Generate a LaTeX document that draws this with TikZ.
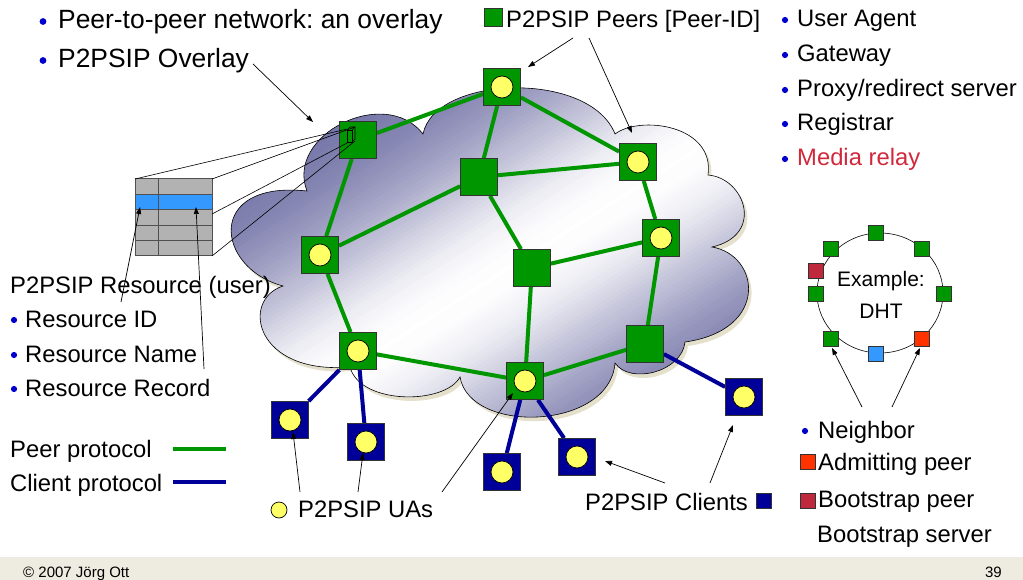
\documentclass[tikz,border=0pt]{standalone}
\usepackage{fontspec}
\setmainfont{Liberation Sans}
\frenchspacing
\usetikzlibrary{arrows.meta,backgrounds}

\definecolor{peergreen}{RGB}{0,150,0}
\definecolor{clientblue}{RGB}{0,0,153}
\definecolor{uayellow}{RGB}{255,255,102}
\definecolor{bulletblue}{RGB}{0,0,204}
\definecolor{relayred}{RGB}{210,40,60}
\definecolor{clouddark}{RGB}{62,62,134}
\definecolor{cloudshadow}{RGB}{228,224,204}
\definecolor{footerbg}{RGB}{238,235,224}
\definecolor{tablegrey}{RGB}{178,178,178}
\definecolor{tableline}{RGB}{80,80,80}
\definecolor{recordblue}{RGB}{51,153,255}
\definecolor{admitred}{RGB}{255,51,0}
\definecolor{bootred}{RGB}{192,40,60}

\tikzset{
  peer/.style={draw=black!80, line width=0.8pt, fill=peergreen, minimum size=37pt, inner sep=0pt},
  client/.style={draw=black!80, line width=0.8pt, fill=clientblue, minimum size=37pt, inner sep=0pt},
  ua/.style={circle, draw=black, line width=0.7pt, fill=uayellow, minimum size=22pt, inner sep=0pt},
  peerlink/.style={draw=peergreen, line width=4pt},
  clientlink/.style={draw=clientblue, line width=4pt},
  pointer/.style={draw=black, line width=0.7pt, -{Triangle[length=7pt,width=5pt]}},
  txt/.style={anchor=base west, inner sep=0pt, font=\fontsize{23.8}{28}\selectfont},
  bigtxt/.style={anchor=base west, inner sep=0pt, font=\fontsize{26.4}{31}\selectfont},
  smalltxt/.style={inner sep=0pt, font=\fontsize{15}{18}\selectfont},
  dhtsq/.style={draw=black!80, line width=0.6pt, minimum size=15pt, inner sep=0pt},
  bulletdot/.style={fill=bulletblue},
}

% outline of the overlay cloud, lobe by lobe
\def\cloudpath{(283,286)
  .. controls (215,268) and (205,180) .. (307,191)
  .. controls (285,135) and (385,85) .. (423,134)
  .. controls (435,75) and (590,70) .. (615,134)
  .. controls (640,115) and (715,125) .. (708,175)
  .. controls (745,178) and (765,235) .. (712,247)
  .. controls (760,255) and (770,330) .. (685,342)
  .. controls (682,372) and (630,385) .. (615,363)
  .. controls (610,430) and (470,435) .. (460,377)
  .. controls (445,405) and (360,405) .. (350,367)
  .. controls (255,375) and (240,300) .. (283,286) -- cycle}

\begin{document}
\begin{tikzpicture}[x=1pt,y=-1pt]
\useasboundingbox (0,0) rectangle (1023,580);

% ---------- peers ----------
\node[peer] (n1) at (502,87) {};
\node[ua] (u1) at (n1) {};
\node[peer] (n2) at (638,162) {};
\node[ua] (u2) at (n2) {};
\node[peer] (n3) at (479,177) {};
\node[peer] (n4) at (661,238) {};
\node[ua] (u4) at (n4) {};
\node[peer] (n5) at (532,268) {};
\node[peer] (n6) at (645,344) {};
\node[peer] (n7) at (525,381) {};
\node[ua] (u7) at (n7) {};
\node[peer] (n8) at (320,255) {};
\node[ua] (u8) at (n8) {};
\node[peer] (n9) at (358,351) {};
\node[ua] (u9) at (n9) {};
\node[peer] (n10) at (358,140) {};

% ---------- clients ----------
\node[client] (c1) at (290,420) {};
\node[ua] (v1) at (c1) {};
\node[client] (c2) at (366,442) {};
\node[ua] (v2) at (c2) {};
\node[client] (c3) at (502,472) {};
\node[ua] (v3) at (c3) {};
\node[client] (c4) at (577,457) {};
\node[ua] (v4) at (c4) {};
\node[client] (c5) at (744,397) {};
\node[ua] (v5) at (c5) {};

\begin{scope}[on background layer]
  \fill[white] (0,0) rectangle (1023,580);
  % cloud with its drop shadow
  \path[fill=cloudshadow, shift={(3,4)}] \cloudpath;
  \begin{scope}
    \clip \cloudpath;
    % gradient across the cloud's diagonal: dark corners, white band between
    \foreach \s in {-300,-296,...,300} {
      \pgfmathsetmacro\dd{(\s-25)/130}
      \pgfmathtruncatemacro\p{100-75*(1-exp(-\dd*\dd))}
      \pgfmathsetmacro\ox{489+0.534*\s}
      \pgfmathsetmacro\oy{253+0.845*\s}
      \colorlet{cloudtint}{white!\p!clouddark}
      \draw[cloudtint, line width=5pt] (\ox-507,\oy+320) -- (\ox+507,\oy-320);
    }
  \end{scope}
  \draw[black, line width=0.6pt] \cloudpath;
  % peer protocol links
  \draw[peerlink] (n10) -- (n1);
  \draw[peerlink] (n10) -- (n8);
  \draw[peerlink] (n1) -- (n3);
  \draw[peerlink] (n1) -- (n2);
  \draw[peerlink] (n3) -- (n8);
  \draw[peerlink] (n3) -- (n2);
  \draw[peerlink] (n3) -- (n5);
  \draw[peerlink] (n2) -- (n4);
  \draw[peerlink] (n4) -- (n5);
  \draw[peerlink] (n4) -- (n6);
  \draw[peerlink] (n8) -- (n9);
  \draw[peerlink] (n9) -- (n7);
  \draw[peerlink] (n5) -- (n7);
  \draw[peerlink] (n7) -- (n6);
  % client protocol links
  \draw[clientlink] (n9) -- (c1);
  \draw[clientlink] (n9) -- (c2);
  \draw[clientlink] (n7) -- (c3);
  \draw[clientlink] (n7) -- (c4);
  \draw[clientlink] (n6) -- (c5);
\end{scope}

% ---------- resource table and its projection onto a peer ----------
\fill[tablegrey] (135,179) rectangle (212,256);
\fill[recordblue] (135,195) rectangle (212,210);
\draw[tableline, line width=1pt] (135,179) rectangle (212,256);
\foreach \yy in {195,210,226,241} \draw[tableline, line width=1pt] (135,\yy) -- (212,\yy);
\draw[tableline, line width=1pt] (158,179) -- (158,256);
\draw[black, line width=0.6pt] (347,130) rectangle (352,142);
\draw[black, line width=0.6pt] (347,130) -- (350,127) -- (355,127) -- (355,139) -- (352,142);
\draw[black, line width=0.6pt] (352,130) -- (355,127);
\draw[black, line width=0.6pt] (135,179) -- (347,129);
\draw[black, line width=0.6pt] (212,179) -- (355,127);
\draw[black, line width=0.6pt] (212,214) -- (349,142);
\draw[black, line width=0.6pt] (212,256) -- (355,141);

% ---------- DHT example ring ----------
\draw[black, line width=0.6pt] (880,293) ellipse [x radius=63, y radius=60];
\node[dhtsq, fill=peergreen] (d1) at (876,233) {};
\node[dhtsq, fill=peergreen] (d2) at (831,249) {};
\node[dhtsq, fill=peergreen] (d3) at (922,249) {};
\node[dhtsq, fill=bootred] (d4) at (816,271) {};
\node[dhtsq, fill=peergreen] (d5) at (816,294) {};
\node[dhtsq, fill=peergreen] (d6) at (944,294) {};
\node[dhtsq, fill=peergreen] (d7) at (831,339) {};
\node[dhtsq, fill=recordblue] (d8) at (876,354) {};
\node[dhtsq, fill=admitred] (d9) at (922,339) {};
\node[anchor=base, inner sep=0pt, font=\fontsize{21}{25}\selectfont] (ex1) at (881,287) {Example:};
\node[anchor=base, inner sep=0pt, font=\fontsize{21}{25}\selectfont] (ex2) at (881,318) {DHT};

% ---------- texts ----------
\fill[bulletdot] (43,21.5) circle (3.4);
\node[bigtxt] (t1) at (58,29) {Peer-to-peer network: an overlay};
\fill[bulletdot] (43,60.5) circle (3.4);
\node[bigtxt] (t2) at (58,68) {P2PSIP Overlay};

\node[draw=black!80, line width=0.6pt, fill=peergreen, minimum size=18pt, inner sep=0pt] (lgpeer) at (493,17) {};
\node[txt] (t3) at (506,28) {P2PSIP Peers [Peer-ID]};

\fill[bulletdot] (785,20) circle (3.1);
\node[txt] (r1) at (797,27) {User Agent};
\fill[bulletdot] (785,55) circle (3.1);
\node[txt] (r2) at (797,62) {Gateway};
\fill[bulletdot] (785,90) circle (3.1);
\node[txt] (r3) at (797,97) {Proxy/redirect server};
\fill[bulletdot] (785,124) circle (3.1);
\node[txt] (r4) at (797,131) {Registrar};
\fill[bulletdot] (785,159) circle (3.1);
\node[txt, text=relayred] (r5) at (797,166) {Media relay};

\node[txt] (l0) at (10,294) {P2PSIP Resource (user)};
\fill[bulletdot] (14,320) circle (3.1);
\node[txt] (l1) at (25,327) {Resource ID};
\fill[bulletdot] (14,355) circle (3.1);
\node[txt] (l2) at (25,362) {Resource Name};
\fill[bulletdot] (14,389) circle (3.1);
\node[txt] (l3) at (25,396) {Resource Record};

\node[txt] (p1) at (10,457) {Peer protocol};
\node[txt] (p2) at (10,491) {Client protocol};
\coordinate (pp1) at (173,449);
\coordinate (pp2) at (226,449);
\coordinate (cp1) at (173,482);
\coordinate (cp2) at (226,482);
\draw[peerlink] (pp1) -- (pp2);
\draw[clientlink] (cp1) -- (cp2);

\node[circle, draw=black, line width=0.7pt, fill=uayellow, minimum size=16pt, inner sep=0pt] (lgua) at (279,510) {};
\node[txt] (t4) at (298,517) {P2PSIP UAs};
\node[txt] (t5) at (585,510) {P2PSIP Clients};
\node[draw=black!80, line width=0.6pt, fill=clientblue, minimum size=15pt, inner sep=0pt] (lgclient) at (763.5,501) {};

\fill[bulletdot] (805,431) circle (3.1);
\node[txt] (g1) at (818,438) {Neighbor};
\node[dhtsq, fill=admitred] (lgadmit) at (807.5,462) {};
\node[txt] (g2) at (818,470) {Admitting peer};
\node[dhtsq, fill=bootred] (lgboot) at (807.5,500.5) {};
\node[txt] (g3) at (818,507) {Bootstrap peer};
\node[txt] (g4) at (817,542) {Bootstrap server};

% ---------- pointers ----------
\coordinate (a1s) at (253,64);   \coordinate (a1e) at (313,122);
\coordinate (a2s) at (573,38);   \coordinate (a2e) at (528,67);
\coordinate (a3s) at (589,38);   \coordinate (a3e) at (632,133);
\coordinate (a4s) at (121,302);  \coordinate (a4e) at (140,207);
\coordinate (a5s) at (204,369);  \coordinate (a5e) at (196,207);
\coordinate (a6s) at (300,492);  \coordinate (a6e) at (293,432);
\coordinate (a7s) at (358,492);  \coordinate (a7e) at (363,453);
\coordinate (a8s) at (442,492);  \coordinate (a8e) at (513,393);
\coordinate (a9s) at (665,483);  \coordinate (a9e) at (605,461);
\coordinate (a10s) at (710,483); \coordinate (a10e) at (733,425);
\coordinate (a11s) at (862,407); \coordinate (a11e) at (832,348);
\coordinate (a12s) at (892,407); \coordinate (a12e) at (920,348);
\foreach \k in {1,...,12} \draw[pointer] (a\k s) -- (a\k e);

% ---------- footer ----------
\fill[footerbg] (0,557) rectangle (1023,580);
\node[smalltxt, anchor=base west] (f1) at (23,577) {© 2007 Jörg Ott};
\node[smalltxt, anchor=base east] (f2) at (1002,577) {39};

\end{tikzpicture}
\end{document}
